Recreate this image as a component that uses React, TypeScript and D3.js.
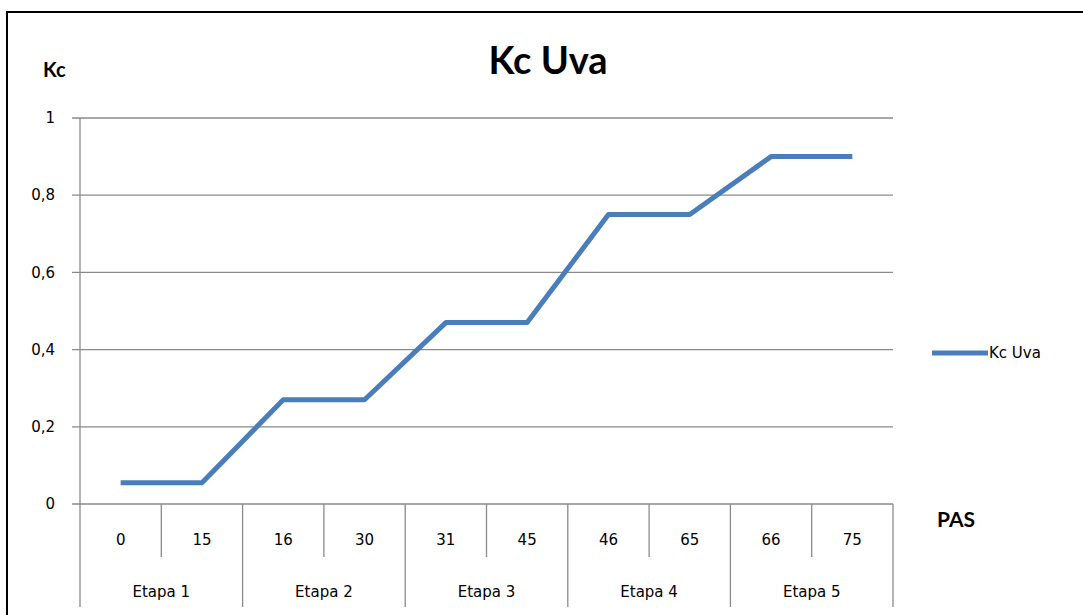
import * as d3 from "d3";

const pasLabels = ["0", "15", "16", "30", "31", "45", "46", "65", "66", "75"];
const etapas = ["Etapa 1", "Etapa 2", "Etapa 3", "Etapa 4", "Etapa 5"];
const kcUva = [0.055, 0.055, 0.27, 0.27, 0.47, 0.47, 0.75, 0.75, 0.9, 0.9];
const yTicks = [0, 0.2, 0.4, 0.6, 0.8, 1];

const W = 1083;
const H = 615;
const plot = { x1: 80, x2: 893, y1: 118, y2: 504 };
const lineColor = "#4A7EBB";
const gridColor = "#8a8a8a";
const tickFont = "'DejaVu Sans', Verdana, sans-serif";
const titleFont = "Lato, 'Open Sans', sans-serif";

export default function App() {
  const x = d3.scaleBand<number>()
    .domain(pasLabels.map((_, i) => i))
    .range([plot.x1, plot.x2]);
  const y = d3.scaleLinear().domain([0, 1]).range([plot.y2, plot.y1]);
  const fmt = (v: number) => String(v).replace(".", ",");

  const line = d3.line<number>()
    .x((_, i) => x(i)! + x.bandwidth() / 2)
    .y((d) => y(d));

  const groupSize = pasLabels.length / etapas.length;

  return (
    <svg width={W} height={H} style={{ position: "absolute", left: 0, top: 0, background: "#fff" }}>
      <rect x={7} y={12} width={1200} height={800} fill="#fff" stroke="#000" strokeWidth={2} />

      {/* gridlines + y ticks */}
      {yTicks.map((t) => (
        <g key={t}>
          <line x1={plot.x1 - 8} x2={plot.x2} y1={y(t)} y2={y(t)} stroke={gridColor} strokeWidth={1.3} />
          <text x={55} y={y(t)} dy="0.35em" textAnchor="end" fontFamily={tickFont} fontSize={15} fill="#000">
            {fmt(t)}
          </text>
        </g>
      ))}
      <line x1={plot.x1} x2={plot.x1} y1={plot.y1} y2={607} stroke={gridColor} strokeWidth={1.3} />

      {/* category separators: short inside a stage, long between stages */}
      {pasLabels.map((_, i) => {
        const xe = x(i)! + x.bandwidth();
        const groupEnd = (i + 1) % groupSize === 0;
        return (
          <line key={i} x1={xe} x2={xe} y1={plot.y2} y2={groupEnd ? 607 : 557} stroke={gridColor} strokeWidth={1.3} />
        );
      })}

      {pasLabels.map((l, i) => (
        <text key={l} x={x(i)! + x.bandwidth() / 2} y={540} dy="0.35em" textAnchor="middle"
          fontFamily={tickFont} fontSize={15} fill="#000">{l}</text>
      ))}
      {etapas.map((e, g) => (
        <text key={e} x={x(g * groupSize)! + x.bandwidth()} y={592} dy="0.35em" textAnchor="middle"
          fontFamily={tickFont} fontSize={15} fill="#000">{e}</text>
      ))}

      <path d={line(kcUva)!} fill="none" stroke={lineColor} strokeWidth={5} strokeLinejoin="round" />

      {/* titles */}
      <text x={548} y={74} textAnchor="middle" fontFamily={titleFont} fontWeight="bold" fontSize={38} fill="#000">Kc Uva</text>
      <text x={43} y={77} fontFamily={titleFont} fontWeight="bold" fontSize={20} fill="#000">Kc</text>
      <text x={937} y={527} fontFamily={titleFont} fontWeight="bold" fontSize={21} fill="#000">PAS</text>

      {/* legend */}
      <line x1={932} x2={988} y1={353} y2={353} stroke={lineColor} strokeWidth={5} />
      <text x={989} y={353} dy="0.35em" fontFamily={tickFont} fontSize={15} fill="#000">Kc Uva</text>
    </svg>
  );
}
